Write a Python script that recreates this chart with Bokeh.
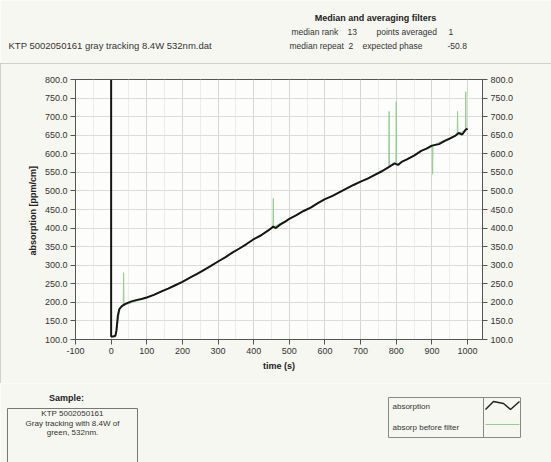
from bokeh.plotting import figure
from bokeh.models import Range1d, FixedTicker, PrintfTickFormatter, LinearAxis
from bokeh.layouts import column
from bokeh.embed import file_html
from bokeh.resources import INLINE
from bokeh.core.properties import value

FONT = "Liberation Sans"

# ---- data ----
time_s = [0, 0, 6, 12, 15, 19, 23, 30, 40, 55, 70, 85, 100, 120, 140, 160, 180, 200, 220, 240,
          260, 280, 300, 320, 340, 360, 380, 400, 420, 440, 455, 462, 475, 490, 500, 520, 540, 560, 580, 600,
          620, 640, 660, 680, 700, 720, 740, 760, 780, 795, 805, 815, 830, 850, 870, 885, 900, 920, 935, 950,
          965, 975, 985, 995, 1000]
absorption = [800, 108, 108, 110, 125, 165, 182, 190, 196, 202, 206, 209, 213, 220, 229, 237, 246, 255, 266, 276,
              287, 298, 310, 321, 334, 345, 357, 370, 380, 393, 404, 400, 410, 418, 425, 435, 446, 455, 467, 478,
              486, 496, 506, 516, 525, 533, 543, 553, 565, 574, 570, 578, 585, 595, 608, 614, 622, 626, 634, 641,
              648, 656, 652, 665, 668]

raw_time = [15, 25, 34, 35, 36, 100, 200, 300, 400, 454, 455, 456, 500, 600, 700, 779, 780, 781,
            799, 800, 801, 901, 902, 903, 971, 972, 973, 994, 995, 996, 1000]
raw_absorption = [125, 184, 192, 280, 192, 213, 255, 310, 370, 403, 480, 403, 425, 478, 525, 565, 714, 566,
                  573, 740, 571, 623, 545, 623, 652, 714, 653, 664, 767, 665, 668]

x_ticks = [-100, 0, 100, 200, 300, 400, 500, 600, 700, 800, 900, 1000]
x_minor = [-50, 50, 150, 250, 350, 450, 550, 650, 750, 850, 950, 1050]
y_ticks = [100, 150, 200, 250, 300, 350, 400, 450, 500, 550, 600, 650, 700, 750, 800]

title_text = "KTP 5002050161 gray tracking 8.4W 532nm.dat"
filter_title = "Median and averaging filters"
filter_names = ["median rank", "13", "points averaged", "1",
                "median repeat", "2", "expected phase", "-50.8"]
sample_lines = ["KTP 5002050161", "Gray tracking with 8.4W of", "green, 532nm."]
legend_names = ["absorption", "absorp before filter"]

W = 551
BG = "#f7f7f1"
TXT = "#333333"
AX = "#555555"
FS = "9px"


def blank(h, y0, y1):
    f = figure(width=W, height=h, x_range=Range1d(0, W), y_range=Range1d(y1, y0),
               toolbar_location=None, output_backend="svg", min_border=0,
               x_axis_type=None, y_axis_type=None, frame_align=False,
               background_fill_color=BG, border_fill_color=BG, outline_line_color=None)
    f.grid.visible = False
    return f


# ---- header ----
top = blank(63, 0, 63)
top.text(x=[8], y=[45], text=[title_text], text_font=value(FONT), text_font_size="9.5px",
         text_baseline="middle", text_align="left", text_color=TXT)
top.text(x=[375], y=[17], text=[filter_title], text_font=value(FONT), text_font_size=FS,
         text_font_style="bold", text_baseline="middle", text_align="center", text_color="#222222")
top.text(x=[291, 347, 376, 448, 289, 348, 362, 447], y=[31, 31, 31, 31, 45, 45, 45, 45],
         text=filter_names, text_font=value(FONT), text_font_size="8.5px",
         text_baseline="middle", text_align="left", text_color=TXT)

# ---- main chart ----
p = figure(width=W, height=320, x_range=Range1d(-100, 1042), y_range=Range1d(100, 800),
           toolbar_location=None, output_backend="svg", frame_align=False,
           min_border_left=75, min_border_right=69, min_border_top=16, min_border_bottom=44,
           background_fill_color="#fdfdfb", border_fill_color=BG, outline_line_color=AX)
p.styles = {"outline": "1px solid #c4c4be", "outline-offset": "-1px"}

p.xaxis.ticker = FixedTicker(ticks=x_ticks, minor_ticks=x_minor)
p.xaxis.formatter = PrintfTickFormatter(format="%d")
p.yaxis.ticker = FixedTicker(ticks=y_ticks)
p.yaxis.formatter = PrintfTickFormatter(format="%.1f")
p.add_layout(LinearAxis(ticker=FixedTicker(ticks=y_ticks), formatter=PrintfTickFormatter(format="%.1f")), "right")

p.xaxis.axis_label = "time (s)"
p.yaxis[0].axis_label = "absorption  [ppm/cm]"
for ax in p.axis:
    ax.axis_line_color = AX
    ax.major_tick_line_color = AX
    ax.minor_tick_line_color = None
    ax.major_tick_out = 5
    ax.major_tick_in = 0
    ax.major_label_standoff = 3
    ax.major_label_text_font = FONT
    ax.major_label_text_font_size = FS
    ax.major_label_text_color = TXT
    ax.axis_label_text_font = FONT
    ax.axis_label_text_font_size = FS
    ax.axis_label_text_font_style = "bold"
    ax.axis_label_text_color = "#222222"
    ax.axis_label_standoff = 4

p.xgrid.grid_line_color = "#d6d6d6"
p.xgrid.minor_grid_line_color = "#ececec"
p.ygrid.grid_line_color = "#dcdcdc"

p.line(raw_time, raw_absorption, line_color="#93cf93", line_width=1)
p.line(time_s, absorption, line_color="#151515", line_width=2)

# ---- bottom: sample box and legend ----
bot = blank(79, 383, 462)
bot.text(x=[66], y=[397], text=["Sample:"], text_font=value(FONT), text_font_size=FS,
         text_font_style="bold", text_baseline="middle", text_align="center", text_color="#222222")
bot.line(x=[7, 7, 137, 137], y=[462, 408, 408, 462], line_color="#777777", line_width=1)
bot.text(x=[72, 72, 72], y=[413, 423, 432], text=sample_lines, text_font=value(FONT),
         text_font_size="8px", text_baseline="middle", text_align="center", text_color=TXT)

bot.line(x=[388, 520, 520, 388, 388], y=[397, 397, 437, 437, 397], line_color="#888888", line_width=1)
bot.line(x=[483, 483], y=[397, 437], line_color="#888888", line_width=1)
bot.text(x=[392, 392], y=[406, 427], text=legend_names, text_font=value(FONT),
         text_font_size="8px", text_baseline="middle", text_align="left", text_color=TXT)
bot.line(x=[485, 493, 503, 510, 519], y=[409, 401, 403, 409, 401], line_color="#222222", line_width=1.5)
bot.line(x=[485, 519], y=[424, 424], line_color="#93cf93", line_width=1)

layout = column(top, p, bot, spacing=0)
open("out.html", "w").write(file_html(layout, INLINE))
